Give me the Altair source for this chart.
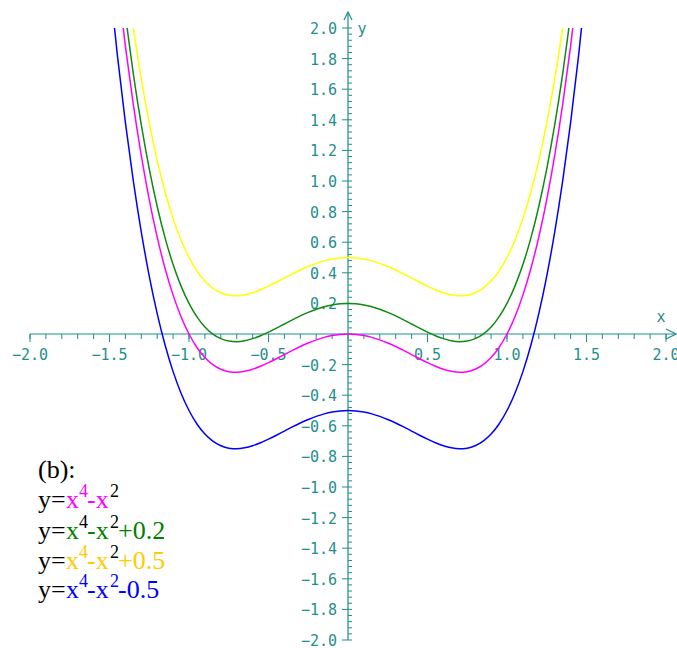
import altair as alt
import pandas as pd

# Sample abscissae and the values of x^4 - x^2 at each of them
x_vals = [-1.5, -1.45, -1.4, -1.35, -1.3, -1.25, -1.2, -1.15, -1.1, -1.05,
          -1.0, -0.95, -0.9, -0.85, -0.8, -0.75, -0.7, -0.65, -0.6, -0.55,
          -0.5, -0.45, -0.4, -0.35, -0.3, -0.25, -0.2, -0.15, -0.1, -0.05,
          0.0, 0.05, 0.1, 0.15, 0.2, 0.25, 0.3, 0.35, 0.4, 0.45,
          0.5, 0.55, 0.6, 0.65, 0.7, 0.75, 0.8, 0.85, 0.9, 0.95,
          1.0, 1.05, 1.1, 1.15, 1.2, 1.25, 1.3, 1.35, 1.4, 1.45, 1.5]
base_vals = [2.8125, 2.318, 1.8816, 1.499, 1.1661, 0.8789, 0.6336, 0.4265, 0.2541, 0.113,
             0.0, -0.088, -0.1539, -0.2005, -0.2304, -0.2461, -0.2499, -0.244, -0.2304, -0.211,
             -0.1875, -0.1615, -0.1344, -0.1075, -0.0819, -0.0586, -0.0384, -0.022, -0.0099, -0.0025,
             0.0, -0.0025, -0.0099, -0.022, -0.0384, -0.0586, -0.0819, -0.1075, -0.1344, -0.1615,
             -0.1875, -0.211, -0.2304, -0.244, -0.2499, -0.2461, -0.2304, -0.2005, -0.1539, -0.088,
             0.0, 0.113, 0.2541, 0.4265, 0.6336, 0.8789, 1.1661, 1.499, 1.8816, 2.318, 2.8125]

# Vertical shifts of the four curves and their colours
offsets = [0.0, 0.2, 0.5, -0.5]
curve_names = ["c0", "c+0.2", "c+0.5", "c-0.5"]
curve_colors = ["#ff00ff", "#108a10", "#ffff00", "#0000ff"]

# Axis ticks and labels
x_major = [-2.0, -1.5, -1.0, -0.5, 0.5, 1.0, 1.5, 2.0]
y_major = [-2.0, -1.8, -1.6, -1.4, -1.2, -1.0, -0.8, -0.6, -0.4, -0.2,
           0.2, 0.4, 0.6, 0.8, 1.0, 1.2, 1.4, 1.6, 1.8, 2.0]
x_minor = [round(-2.0 + 0.1 * i, 2) for i in range(41)]
y_minor = [round(-2.0 + 0.04 * i, 2) for i in range(101)]

AXIS = "#1f8f8c"
W, H = 636, 612
PAD_L, PAD_T = 30, 28
LABEL_FONT = "DejaVu Sans Mono"
LABEL_SIZE = 15

rows = []
for name, off in zip(curve_names, offsets):
    for xv, bv in zip(x_vals, base_vals):
        rows.append({"curve": name, "x": xv, "y": bv + off})
curves_df = pd.DataFrame(rows)

xs = alt.Scale(domain=[-2, 2], nice=False, zero=False)
ys = alt.Scale(domain=[-2, 2], nice=False, zero=False)


def X(field=None, datum=None):
    if field is not None:
        return alt.X(field, scale=xs, axis=None)
    return alt.X(datum=datum, scale=xs, axis=None)


def Y(field=None, datum=None):
    if field is not None:
        return alt.Y(field, scale=ys, axis=None)
    return alt.Y(datum=datum, scale=ys, axis=None)


def fmt(v):
    return f"{v:.1f}".replace("-", "\u2212")


one = pd.DataFrame({"a": [0]})

# axis lines
x_axis_line = alt.Chart(one).mark_rule(
    color=AXIS, strokeWidth=1.2, x2Offset=10
).encode(x=X(datum=-2), x2=alt.X2(datum=2), y=Y(datum=0))

y_axis_line = alt.Chart(one).mark_rule(
    color=AXIS, strokeWidth=1.2, y2Offset=-16
).encode(y=Y(datum=-2), y2=alt.Y2(datum=2), x=X(datum=0))

# arrowheads
y_arrow = alt.Chart(one).mark_point(
    shape="M-1,1L0,-1L1,1", filled=False, size=64, color=AXIS, opacity=1,
    strokeWidth=1.2, yOffset=-12
).encode(x=X(datum=0), y=Y(datum=2))

x_arrow = alt.Chart(one).mark_point(
    shape="M-1,-1L1,0L-1,1", filled=False, size=100, color=AXIS, opacity=1,
    strokeWidth=1.2, xOffset=5
).encode(x=X(datum=2), y=Y(datum=0))

# ticks on the horizontal axis
x_minor_ticks = alt.Chart(pd.DataFrame({"v": x_minor})).mark_rule(
    color=AXIS, strokeWidth=1, y2Offset=5
).encode(x=X("v:Q"), y=Y(datum=0), y2=alt.Y2(datum=0))

x_major_ticks = alt.Chart(pd.DataFrame({"v": x_major})).mark_rule(
    color=AXIS, strokeWidth=1, y2Offset=8
).encode(x=X("v:Q"), y=Y(datum=0), y2=alt.Y2(datum=0))

# ticks on the vertical axis
y_minor_ticks = alt.Chart(pd.DataFrame({"v": y_minor})).mark_rule(
    color=AXIS, strokeWidth=1, x2Offset=4
).encode(y=Y("v:Q"), x=X(datum=0), x2=alt.X2(datum=0))

y_major_ticks = alt.Chart(pd.DataFrame({"v": y_major})).mark_rule(
    color=AXIS, strokeWidth=1, xOffset=-6
).encode(y=Y("v:Q"), x=X(datum=0), x2=alt.X2(datum=0))

# tick labels
x_labels = alt.Chart(pd.DataFrame({"v": x_major, "t": [fmt(v) for v in x_major]})).mark_text(
    color=AXIS, font=LABEL_FONT, fontSize=LABEL_SIZE, baseline="middle", align="center", dy=21
).encode(x=X("v:Q"), y=Y(datum=0), text="t:N")

y_labels = alt.Chart(pd.DataFrame({"v": y_major, "t": [fmt(v) for v in y_major]})).mark_text(
    color=AXIS, font=LABEL_FONT, fontSize=LABEL_SIZE, baseline="middle", align="right", dx=-11, dy=1
).encode(y=Y("v:Q"), x=X(datum=0), text="t:N")

x_name = alt.Chart(pd.DataFrame({"t": ["x"]})).mark_text(
    color=AXIS, font=LABEL_FONT, fontSize=LABEL_SIZE, baseline="middle", align="center", dy=-17, dx=-5
).encode(x=X(datum=2), y=Y(datum=0), text="t:N")

y_name = alt.Chart(pd.DataFrame({"t": ["y"]})).mark_text(
    color=AXIS, font=LABEL_FONT, fontSize=LABEL_SIZE, baseline="middle", align="center", dx=14, dy=1
).encode(x=X(datum=0), y=Y(datum=2), text="t:N")

# the four curves
curves = alt.Chart(curves_df).mark_line(
    strokeWidth=1.5, clip=True, interpolate="monotone"
).encode(
    x=X("x:Q"),
    y=Y("y:Q"),
    color=alt.Color("curve:N", scale=alt.Scale(domain=curve_names, range=curve_colors), legend=None),
    detail="curve:N",
)

# equation block in the lower left
BLACK = "#000000"
eq_colors = [
    # y=, x, 4, -x, 2, tail
    [BLACK, "#ff00ff", "#ff00ff", "#ff00ff", BLACK, "#ff00ff"],
    [BLACK, "#008000", BLACK, "#008000", BLACK, "#008000"],
    [BLACK, "#ffcc00", "#ffcc00", "#ffcc00", BLACK, "#ffcc00"],
    [BLACK, "#0000ff", "#0000ff", "#0000ff", "#0000ff", "#0000ff"],
]
eq_tails = ["", "+0.2", "+0.5", "-0.5"]
seg_x = [38, 66, 79, 87, 110, 118]
seg_text = ["y=", "x", "4", "-x", "2", None]
seg_sup = [False, False, True, False, True, False]
baselines = [508, 539, 569, 598]

eq_rows = [{"t": "(b):", "px": 38, "py": 478, "c": BLACK, "fs": 26}]
for cols, tail, by in zip(eq_colors, eq_tails, baselines):
    for k in range(6):
        txt = seg_text[k] if seg_text[k] is not None else tail
        if not txt:
            continue
        eq_rows.append({
            "t": txt,
            "px": seg_x[k],
            "py": by - 11 if seg_sup[k] else by,
            "c": cols[k],
            "fs": 18 if seg_sup[k] else 26,
        })
eq_df = pd.DataFrame(eq_rows)
# pixel positions are measured from the page corner; the plot origin sits at the padding
eq_df["px"] = eq_df["px"] - PAD_L
eq_df["py"] = eq_df["py"] - PAD_T

equations = alt.Chart(eq_df).mark_text(
    font="Liberation Serif", align="left", baseline="alphabetic"
).encode(
    x=alt.X("px:Q", scale=None, axis=None),
    y=alt.Y("py:Q", scale=None, axis=None),
    text="t:N",
    color=alt.Color("c:N", scale=None),
    size=alt.Size("fs:Q", scale=None),
)

chart = alt.layer(
    x_minor_ticks, x_major_ticks, y_minor_ticks, y_major_ticks,
    x_axis_line, y_axis_line, y_arrow, x_arrow,
    x_labels, y_labels, x_name, y_name,
    curves, equations,
).properties(
    width=W, height=H,
    autosize=alt.AutoSizeParams(type="none"),
    padding={"left": PAD_L, "top": PAD_T, "right": 11, "bottom": 8},
    background="white",
).configure_view(stroke=None)

chart.save("out.html", embed_options={"renderer": "svg", "actions": False})
